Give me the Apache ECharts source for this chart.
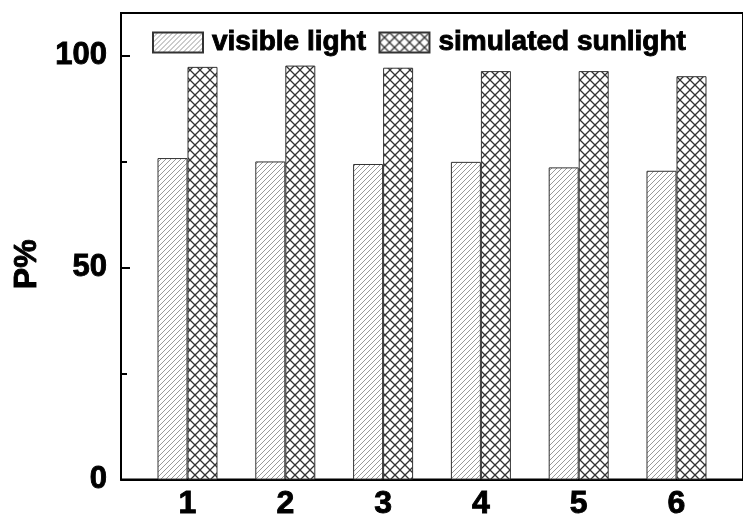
<!DOCTYPE html>
<html>
<head>
<meta charset="utf-8">
<script src="https://cdn.jsdelivr.net/npm/echarts@6/dist/echarts.min.js"></script>
<style>
  html, body { margin: 0; padding: 0; background: #fff; }
  #chart { width: 743px; height: 521px; }
</style>
</head>
<body>
<div id="chart"></div>
<script>
// Sample numbers (x positions) and P% for the two light sources
const samples = [1, 2, 3, 4, 5, 6];
const visibleLight = [75.8, 75.0, 74.4, 74.9, 73.6, 72.8];
const simulatedSunlight = [97.3, 97.6, 97.1, 96.3, 96.3, 95.1];
const yLabelTicks = [0, 50, 100];
const yMinorTicks = [25, 75];
const seriesNames = ['visible light', 'simulated sunlight'];

// Fill patterns: fine diagonal hatch and a diamond cross-hatch
function hatchPattern() {
  const s = 5;
  const c = document.createElement('canvas');
  c.width = s; c.height = s;
  const g = c.getContext('2d');
  g.fillStyle = '#fff'; g.fillRect(0, 0, s, s);
  g.strokeStyle = '#808080'; g.lineWidth = 0.8;
  g.beginPath();
  g.moveTo(0, s); g.lineTo(s, 0);
  g.moveTo(-1, 1); g.lineTo(1, -1);
  g.moveTo(s - 1, s + 1); g.lineTo(s + 1, s - 1);
  g.stroke();
  return c;
}
function crossPattern() {
  const s = 10;
  const c = document.createElement('canvas');
  c.width = s; c.height = s;
  const g = c.getContext('2d');
  g.fillStyle = '#fff'; g.fillRect(0, 0, s, s);
  g.strokeStyle = '#333'; g.lineWidth = 1.3;
  g.beginPath();
  g.moveTo(0, 0); g.lineTo(s, s);
  g.moveTo(0, s); g.lineTo(s, 0);
  g.stroke();
  return c;
}

const font = '"Liberation Sans", Arial, Helvetica, sans-serif';
// bold text, thickened slightly with a matching outline
const boldText = (size) => ({
  fontFamily: font, fontWeight: 'bold', fontSize: size, color: '#000',
  textBorderColor: '#000', textBorderWidth: 0.9
});

const chart = echarts.init(document.getElementById('chart'));
const pairs = (vals) => samples.map((x, i) => [x, vals[i]]);

chart.setOption({
  animation: false,
  backgroundColor: '#fff',
  grid: {
    left: 121, top: 13, bottom: 40, right: -3,
    show: true, borderColor: '#000', borderWidth: 2, backgroundColor: 'transparent'
  },
  legend: {
    data: seriesNames,
    icon: 'rect',
    left: 152, top: 28, padding: 0,
    itemWidth: 50, itemHeight: 20, itemGap: 12,
    selectedMode: false,
    textStyle: Object.assign(boldText(28), { padding: [0, 0, 0, 4] })
  },
  xAxis: {
    type: 'value',
    min: 0.32, max: 6.68,
    splitLine: { show: false },
    axisLine: { lineStyle: { color: '#000', width: 2 } },
    axisTick: { show: false },
    axisLabel: Object.assign({ customValues: samples, margin: 9 }, boldText(32))
  },
  yAxis: [
    {
      type: 'value', min: 0, max: 110,
      name: 'P%', nameLocation: 'middle', nameGap: 72,
      nameTextStyle: Object.assign(boldText(32), { padding: [0, 36, 0, 0] }),
      splitLine: { show: false },
      axisLine: { show: true, lineStyle: { color: '#000', width: 2 } },
      axisTick: { show: true, inside: true, length: 9, customValues: yLabelTicks, lineStyle: { color: '#000', width: 2 } },
      axisLabel: Object.assign({ customValues: yLabelTicks, margin: 14 }, boldText(31))
    },
    {
      type: 'value', min: 0, max: 110, position: 'left',
      splitLine: { show: false },
      axisLine: { show: false },
      axisTick: { show: true, inside: true, length: 6, customValues: yMinorTicks, lineStyle: { color: '#000', width: 2 } },
      axisLabel: { show: false }
    }
  ],
  series: [
    {
      name: seriesNames[0], type: 'bar', yAxisIndex: 0,
      data: pairs(visibleLight),
      barWidth: 30, barGap: '0%',
      itemStyle: { color: { image: hatchPattern(), repeat: 'repeat' }, borderColor: '#333', borderWidth: 1 }
    },
    {
      name: seriesNames[1], type: 'bar', yAxisIndex: 0,
      data: pairs(simulatedSunlight),
      barWidth: 30, barGap: '0%',
      itemStyle: { color: { image: crossPattern(), repeat: 'repeat' }, borderColor: '#333', borderWidth: 1 }
    }
  ]
});
</script>
</body>
</html>
